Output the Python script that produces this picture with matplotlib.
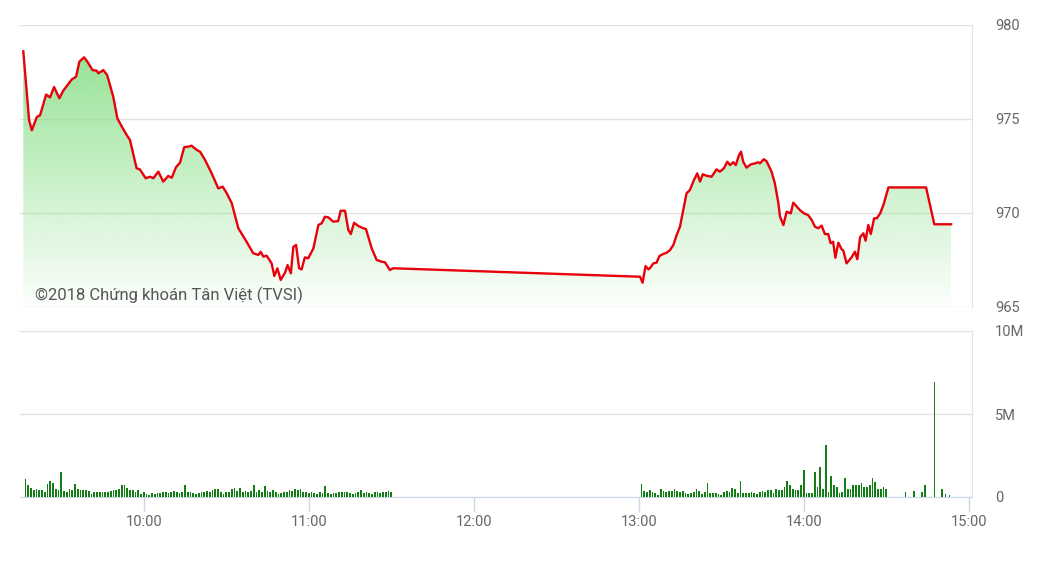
import numpy as np
import matplotlib
matplotlib.use("Agg")
import matplotlib.pyplot as plt
from matplotlib.colors import to_rgb
from matplotlib.patches import Polygon

plt.rcParams['font.family'] = ['Roboto', 'DejaVu Sans']

# index line: minutes after 09:00 and value
price_min = [16.2, 18.3, 19.3, 21.1, 22.3, 24.5, 25.9, 27.4, 29.3, 30.7,
             33.8, 35.4, 36.6, 38.3, 39.5, 41.4, 42.9, 43.5, 45.3, 46.7,
             48.9, 50.4, 52.0, 53.8, 55.0, 57.4, 58.6, 60.7, 62.3, 63.5,
             65.3, 67.1, 68.9, 70.2, 71.7, 73.2, 74.7, 76.2, 77.4, 79.3,
             80.5, 82.3, 84.7, 87.1, 88.7, 90.2, 92.0, 94.4, 97.4, 99.8,
             101.7, 102.5, 103.5, 104.7, 106.5, 107.5, 108.6, 109.8, 111.4, 112.3,
             113.5, 114.4, 115.4, 116.5, 117.4, 118.6, 119.8, 121.7, 123.5, 124.7,
             125.9, 127.1, 128.9, 130.7, 131.6, 133.2, 134.4, 135.3, 136.5, 138.0,
             139.8, 140.8, 142.9, 144.7, 146.5, 147.7, 149.5, 150.7,
             240.5, 241.4, 242.5, 243.5, 244.3, 245.3, 246.5, 247.5, 248.9, 250.2,
             251.4, 252.6, 253.8, 255.0, 256.2, 257.4, 258.6, 260.1, 261.3, 262.3,
             263.3, 264.7, 266.5, 268.3, 269.5, 271.0, 272.2, 273.2, 274.4, 275.3,
             276.5, 277.2, 278.0, 279.2, 280.8, 282.3, 283.5, 284.1, 285.5, 286.5,
             288.3, 289.5, 290.7, 291.4, 292.6, 293.8, 295.3, 296.2, 297.5, 298.6,
             300.1, 301.6, 302.9, 304.1, 305.3, 306.5, 307.7, 308.9, 309.8, 310.7,
             311.5, 312.6, 313.8, 314.4, 315.6, 317.4, 318.6, 319.5, 320.5, 321.7,
             322.5, 323.5, 324.4, 325.6, 326.6, 327.8, 329.0, 330.8, 344.5, 347.5,
             353.6]
price_val = [978.6, 974.95, 974.4, 975.1, 975.2, 976.3, 976.15, 976.7, 976.1, 976.5,
             977.1, 977.25, 978.05, 978.28, 978.05, 977.6, 977.57, 977.43, 977.6, 977.34,
             976.19, 975.04, 974.6, 974.15, 973.88, 972.38, 972.32, 971.85, 971.93, 971.85,
             972.2, 971.67, 971.97, 971.88, 972.43, 972.68, 973.5, 973.53, 973.58, 973.35,
             973.26, 972.82, 972.11, 971.31, 971.4, 971.05, 970.52, 969.19, 968.47, 967.86,
             967.77, 967.94, 967.68, 967.73, 967.32, 966.65, 967.06, 966.44, 966.83, 967.23,
             966.79, 968.2, 968.3, 967.06, 967.0, 967.64, 967.59, 968.12, 969.36, 969.45,
             969.8, 969.77, 969.54, 969.57, 970.12, 970.12, 969.1, 968.88, 969.48, 969.31,
             969.19, 969.15, 968.12, 967.5, 967.41, 967.38, 966.97, 967.06,
             966.61, 966.29, 967.18, 967.0, 967.1, 967.32, 967.36, 967.71, 967.82, 967.89,
             968.03, 968.3, 968.83, 969.27, 970.16, 971.05, 971.22, 971.76, 972.11, 971.67,
             972.06, 971.98, 971.93, 972.32, 972.2, 972.38, 972.73, 972.55, 972.7, 972.55,
             973.09, 973.26, 972.73, 972.41, 972.59, 972.64, 972.7, 972.64, 972.86, 972.75,
             972.2, 971.58, 970.6, 969.8, 969.36, 970.07, 969.98, 970.55, 970.34, 970.16,
             969.98, 969.89, 969.63, 969.27, 969.19, 969.33, 968.88, 968.88, 968.39, 968.47,
             967.62, 968.42, 968.07, 968.0, 967.32, 967.64, 967.94, 967.54, 968.71, 968.92,
             968.53, 969.36, 968.88, 969.72, 969.72, 969.98, 970.43, 971.36, 971.36, 969.4,
             969.4]

# volume per minute (millions of shares)
vol_am_start = 9 * 60 + 17
vol_am = [1.08, 0.72, 0.56, 0.42, 0.48, 0.42, 0.40, 0.28, 0.76, 0.98,
          0.82, 0.48, 0.42, 1.52, 0.36, 0.32, 0.48, 0.42, 0.76, 0.48,
          0.44, 0.42, 0.40, 0.36, 0.16, 0.32, 0.32, 0.28, 0.28, 0.32,
          0.32, 0.36, 0.42, 0.42, 0.48, 0.72, 0.72, 0.56, 0.42, 0.42,
          0.32, 0.40, 0.16, 0.32, 0.16,
          0.12, 0.22, 0.16, 0.22, 0.22, 0.28, 0.32, 0.22, 0.32, 0.36,
          0.28, 0.22, 0.32, 0.72, 0.28, 0.32, 0.22, 0.16, 0.22, 0.32,
          0.32, 0.36, 0.32, 0.40, 0.48, 0.48, 0.32, 0.16, 0.28, 0.32,
          0.48, 0.56, 0.36, 0.56, 0.32, 0.36, 0.32, 0.36, 0.72, 0.32,
          0.42, 0.32, 0.68, 0.36, 0.28, 0.42, 0.32,
          0.16, 0.22, 0.32, 0.32, 0.42, 0.36, 0.48, 0.42, 0.48, 0.32,
          0.28, 0.22, 0.28, 0.22, 0.16, 0.28, 0.22, 0.68, 0.22, 0.16,
          0.22, 0.22, 0.28, 0.32, 0.28, 0.32, 0.22, 0.16, 0.22, 0.32,
          0.42, 0.22, 0.28, 0.22, 0.16, 0.28, 0.32, 0.22, 0.28, 0.32,
          0.36, 0.32]
vol_pm_start = 13 * 60 + 1
vol_pm = [0.78, 0.38, 0.32, 0.42, 0.32, 0.26, 0.12, 0.46, 0.38, 0.32,
          0.38, 0.38, 0.46, 0.38, 0.32, 0.38, 0.26, 0.18, 0.26, 0.32,
          0.46, 0.38, 0.18, 0.32, 0.86, 0.26, 0.26, 0.26, 0.18, 0.12,
          0.32, 0.38, 0.32, 0.52, 0.46, 0.22, 0.95, 0.26, 0.26, 0.26,
          0.32, 0.26, 0.18, 0.32, 0.38, 0.32, 0.42, 0.42, 0.26, 0.46,
          0.42, 0.42, 0.58, 0.98, 0.72, 0.46, 0.42, 0.42, 0.72, 1.62,
          0.26, 0.26, 0.26, 1.52, 0.62, 1.82, 0.46, 3.12, 0.32, 1.26,
          0.72, 0.58, 0.26, 0.32, 1.12, 0.46, 0.46, 0.72, 0.72, 0.72,
          0.82, 0.62, 0.62, 0.72, 1.12, 0.92, 0.46, 0.46, 0.62, 0.46]
vol_close_min = [14 * 60 + 37, 14 * 60 + 40, 14 * 60 + 43, 14 * 60 + 44,
                 14 * 60 + 47.6, 14 * 60 + 50.4, 14 * 60 + 51.6, 14 * 60 + 53]
vol_close = [0.30, 0.36, 0.30, 0.72, 6.9, 0.46, 0.20, 0.15]

hour_ticks = [10, 11, 12, 13, 14, 15]
hour_labels = ["10:00", "11:00", "12:00", "13:00", "14:00", "15:00"]
price_ticks = [965, 970, 975, 980]
vol_ticks = [0, 5, 10]
vol_labels = ["0", "5M", "10M"]

W, H = 1040, 584
fig = plt.figure(figsize=(W / 100, H / 100), dpi=100)
ax = fig.add_axes([20 / W, 1 - 307 / H, 952 / W, 282 / H])
axv = fig.add_axes([20 / W, 1 - 497 / H, 952 / W, 166 / H])

grid_c = '#e3e3e3'
axis_c = '#ccd6eb'
label_c = '#666666'

# price panel
x = 9 + np.array(price_min) / 60
y = np.array(price_val)
grad = np.zeros((256, 1, 4))
grad[..., :3] = to_rgb('#7edc7e')
grad[..., 3] = np.linspace(0.9, 0.02, 256)[:, None]
im = ax.imshow(grad, extent=[x.min(), x.max(), 965, 980], aspect='auto',
               origin='upper', zorder=1, interpolation='bilinear')
poly = Polygon([(x[0], 965)] + list(zip(x, y)) + [(x[-1], 965)], closed=True,
               facecolor='none', edgecolor='none')
ax.add_patch(poly)
im.set_clip_path(poly)
ax.plot(x, y, color='#e8000b', lw=1.7, zorder=3, solid_joinstyle='round')

ax.set_xlim(9.25, 15.02)
ax.set_ylim(965, 980)
ax.set_yticks(price_ticks)
ax.yaxis.tick_right()
ax.set_xticks([])
ax.grid(axis='y', color=grid_c, lw=1)
ax.set_axisbelow(True)
ax.tick_params(axis='y', length=0, pad=16.5, labelsize=10.5, labelcolor=label_c)
for s in ['top', 'left', 'bottom']:
    ax.spines[s].set_visible(False)
ax.spines['right'].set_color('#dfe3ea')

fig.text(35 / W, 1 - 295 / H, "©2018 Chứng khoán Tân Việt (TVSI)",
         ha='left', va='center', fontsize=12, color='#555555')

# volume panel
t_am = (vol_am_start + np.arange(len(vol_am))) / 60
t_pm = (vol_pm_start + np.arange(len(vol_pm))) / 60
t_close = np.array(vol_close_min) / 60
bar_w = 0.65 / 60
for t, v in [(t_am, vol_am), (t_pm, vol_pm), (t_close, vol_close)]:
    axv.bar(t, v, width=bar_w, color='#157d15', zorder=3)

axv.set_xlim(9.25, 15.02)
axv.set_ylim(0, 10)
axv.set_yticks(vol_ticks)
axv.set_yticklabels(vol_labels)
axv.yaxis.tick_right()
axv.grid(axis='y', color=grid_c, lw=1)
axv.set_axisbelow(True)
axv.tick_params(axis='y', length=0, pad=16.5, labelsize=10.5, labelcolor=label_c)
axv.set_xticks(hour_ticks)
axv.set_xticklabels(hour_labels)
axv.tick_params(axis='x', length=10, width=1, color=axis_c, pad=3,
                labelsize=10.5, labelcolor=label_c)
for s in ['top', 'left']:
    axv.spines[s].set_visible(False)
axv.spines['right'].set_color('#dfe3ea')
axv.spines['bottom'].set_color(axis_c)

fig.savefig('out.png', dpi=100)
